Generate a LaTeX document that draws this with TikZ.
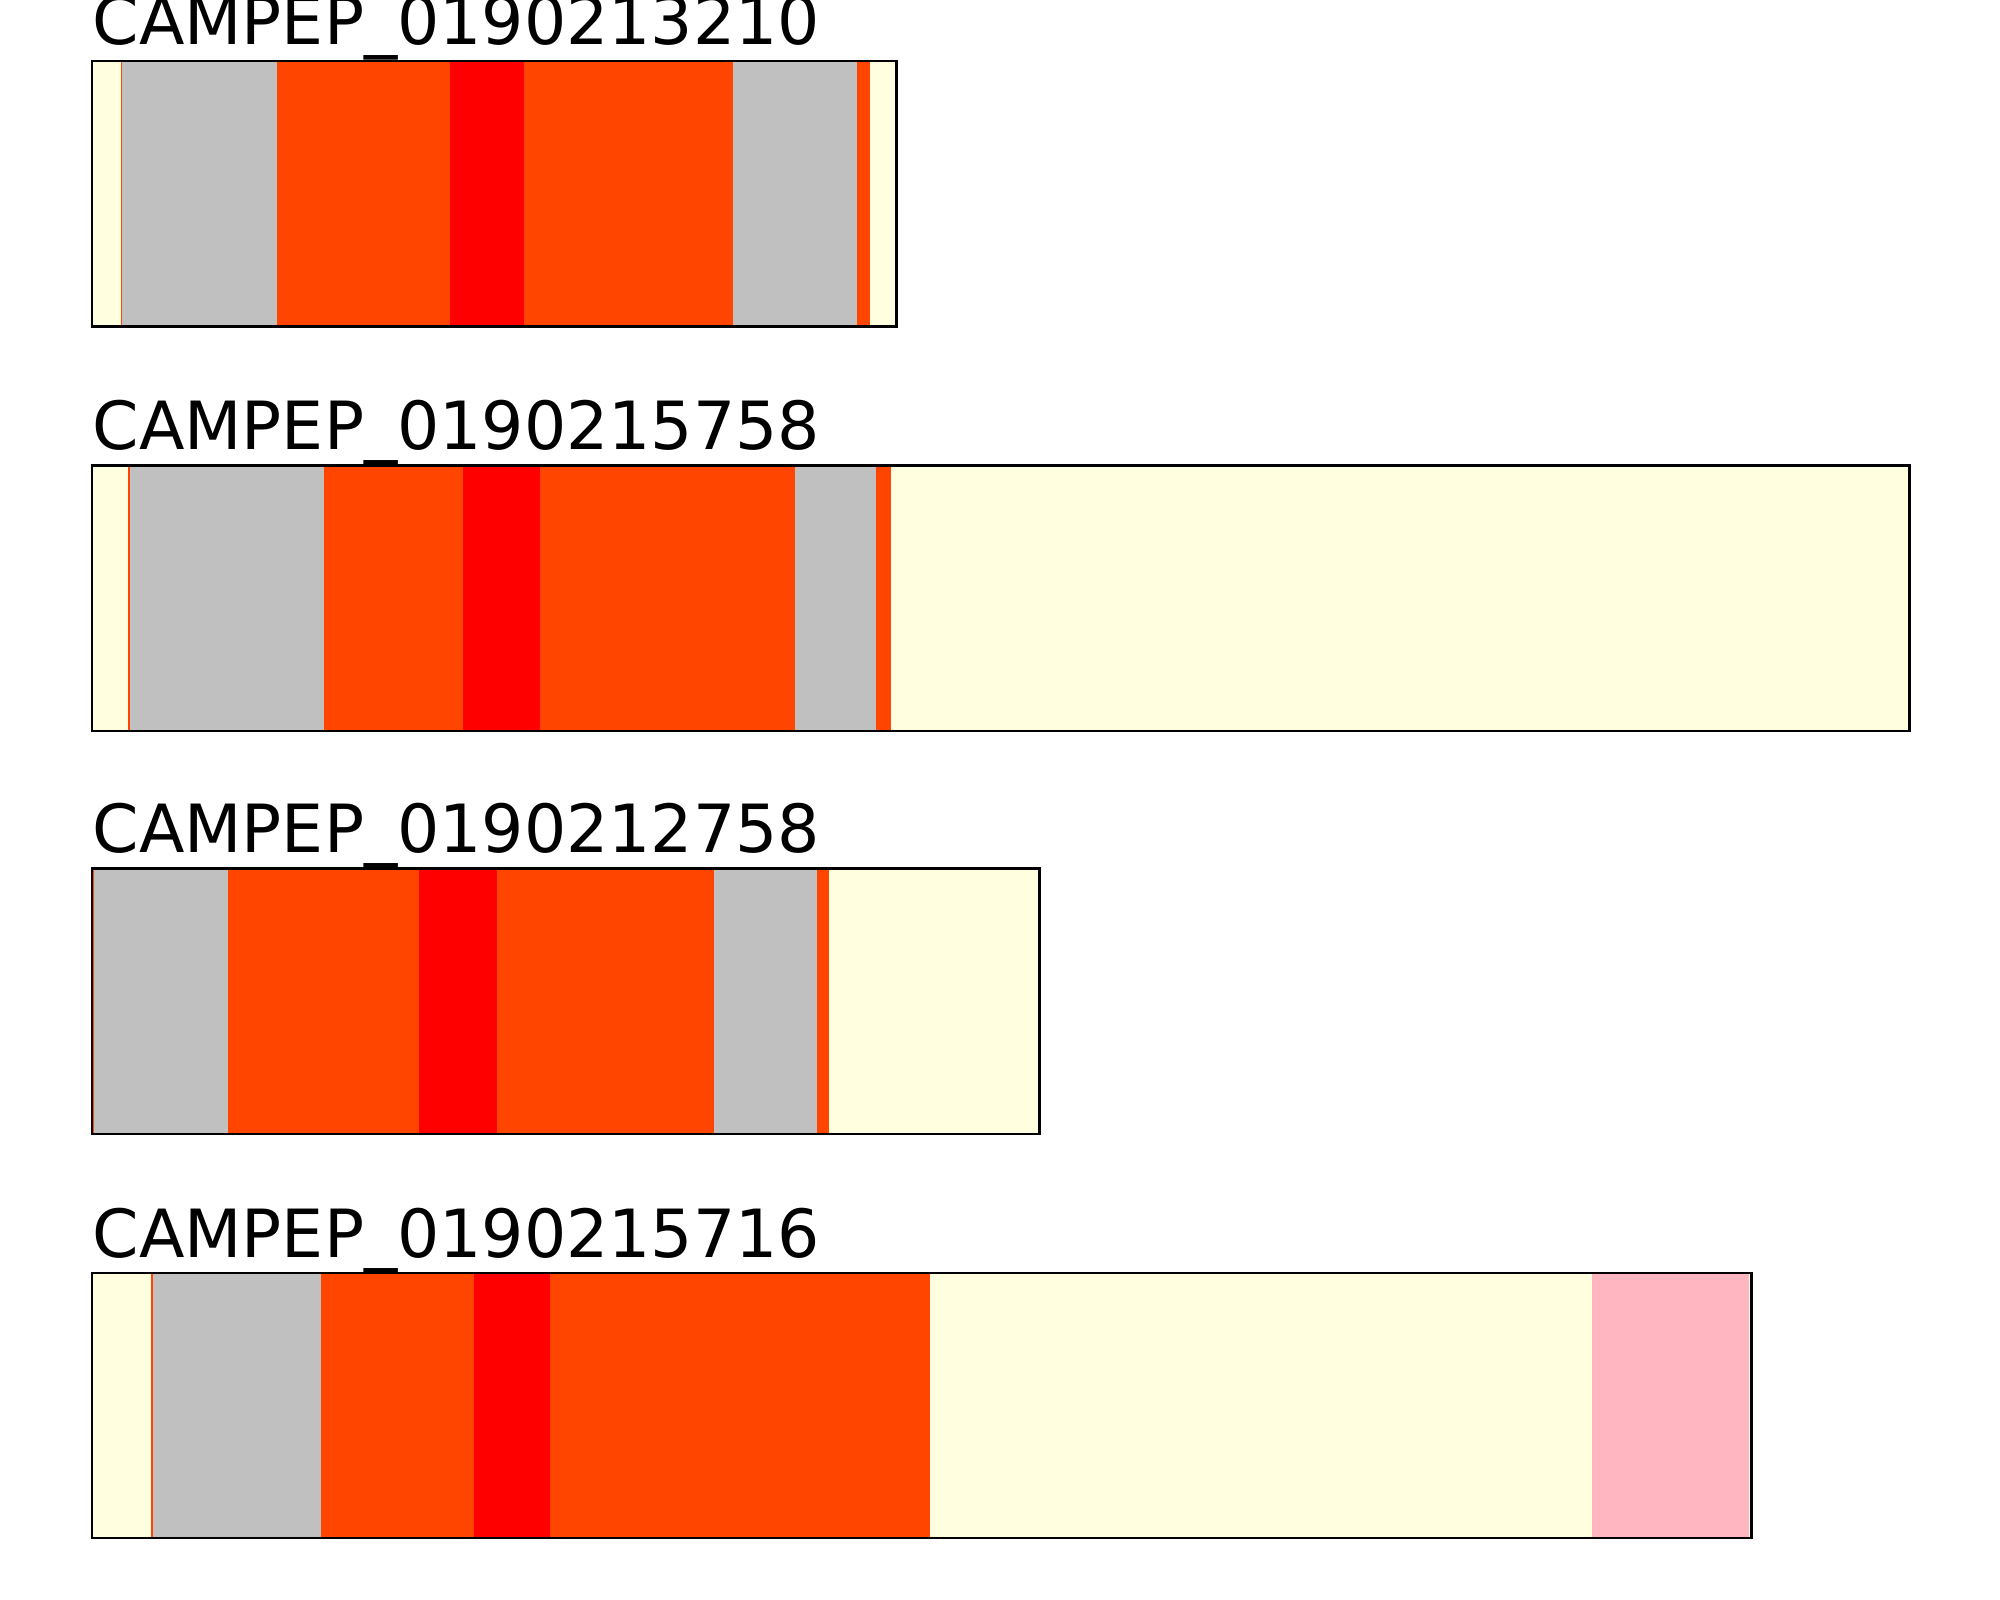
\documentclass[tikz,border=0pt]{standalone}
\usepackage{fontspec}
\setmainfont{DejaVu Sans}

\definecolor{lightyellow}{HTML}{FFFFE0}
\definecolor{silvergrey}{HTML}{C0C0C0}
\definecolor{orangered}{HTML}{FF4500}
\definecolor{purered}{HTML}{FF0000}
\definecolor{lightpink}{HTML}{FFB6C1}

\begin{document}
\begin{tikzpicture}[x=0.01cm, y=-0.01cm,
  seqtitle/.style={anchor=base west, inner sep=0pt, font=\fontsize{18.9}{22}\selectfont},
  seqframe/.style={draw=black, line width=0.7pt}]
  \useasboundingbox (0,0) rectangle (2000,1600);

  % Sequence 1
  \node[seqtitle] (title1) at (92,45) {CAMPEP\_0190213210};
  \foreach \a/\b/\c in {91.8/121.1/lightyellow, 121.1/122.4/orangered,
      122.4/277.2/silvergrey, 277.2/450.1/orangered, 450.1/523.8/purered,
      523.8/733/orangered, 733/856.6/silvergrey, 856.6/869.6/orangered,
      869.6/896.7/lightyellow}
    \fill[\c] (\a,61.2) rectangle (\b,326.5);
  \draw[seqframe] (91.8,61.2) rectangle (896.7,326.5);

  % Sequence 2
  \node[seqtitle] (title2) at (92,449) {CAMPEP\_0190215758};
  \foreach \a/\b/\c in {91.8/128.2/lightyellow, 128.2/129.5/orangered,
      129.5/324/silvergrey, 324/462.9/orangered, 462.9/539.8/purered,
      539.8/795.3/orangered, 795.3/876.2/silvergrey, 876.2/890.6/orangered,
      890.6/1909.4/lightyellow}
    \fill[\c] (\a,465.5) rectangle (\b,730.9);
  \draw[seqframe] (91.8,465.5) rectangle (1909.4,730.9);

  % Sequence 3
  \node[seqtitle] (title3) at (92,852) {CAMPEP\_0190212758};
  \foreach \a/\b/\c in {91.8/93.5/orangered, 93.5/228.2/silvergrey,
      228.2/419.4/orangered, 419.4/497.1/purered, 497.1/713.9/orangered,
      713.9/817.1/silvergrey, 817.1/828.6/orangered, 828.6/1039.5/lightyellow}
    \fill[\c] (\a,868.6) rectangle (\b,1133.9);
  \draw[seqframe] (91.8,868.6) rectangle (1039.5,1133.9);

  % Sequence 4
  \node[seqtitle] (title4) at (92,1257) {CAMPEP\_0190215716};
  \foreach \a/\b/\c in {91.8/151.2/lightyellow, 151.2/152.5/orangered,
      152.5/321.1/silvergrey, 321.1/473.8/orangered, 473.8/550.2/purered,
      550.2/930.2/orangered, 930.2/1592.3/lightyellow, 1592.3/1748.5/lightpink,
      1748.5/1751.3/lightyellow}
    \fill[\c] (\a,1273) rectangle (\b,1538.2);
  \draw[seqframe] (91.8,1273) rectangle (1751.3,1538.2);
\end{tikzpicture}
\end{document}
